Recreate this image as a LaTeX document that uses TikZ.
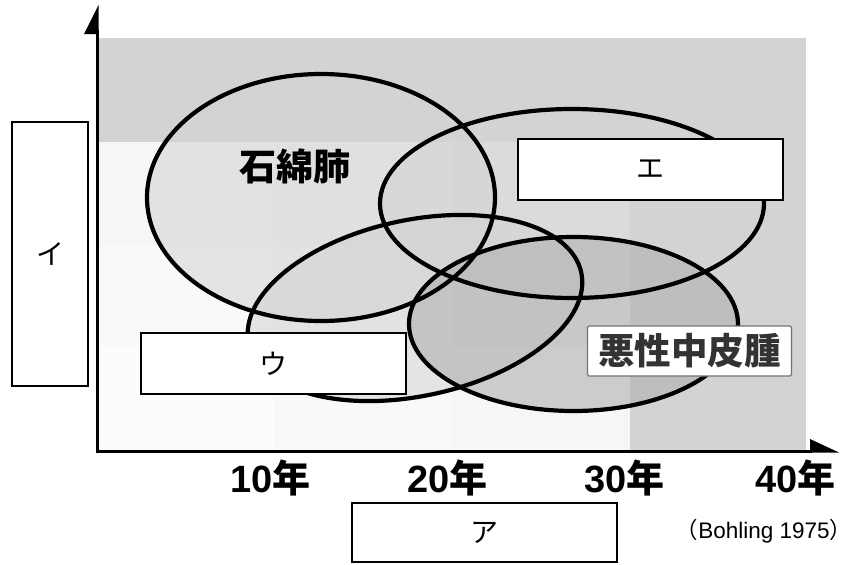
\documentclass[tikz,border=0pt]{standalone}
\usepackage{fontspec}
\newfontfamily\jp{Noto Sans CJK JP}
\newfontfamily\lib{Liberation Sans}
\definecolor{band}{HTML}{D3D3D3}
\definecolor{ca}{HTML}{F6F6F6}
\definecolor{cb}{HTML}{F1F1F1}
\definecolor{cc}{HTML}{E6E6E6}
\definecolor{cd}{HTML}{F9F9F9}
\definecolor{ce}{HTML}{F5F5F5}
\definecolor{cf}{HTML}{EDEDED}
\definecolor{cg}{HTML}{FCFCFC}
\definecolor{ch}{HTML}{F9F9F9}
\definecolor{ci}{HTML}{F6F6F6}
\definecolor{efill}{HTML}{D3D3D3}
\definecolor{mfill}{HTML}{B0B0B0}
\definecolor{mtext}{HTML}{333333}
\tikzset{
  ellfill/.style={fill=efill, fill opacity=0.55},
  mesofill/.style={fill=mfill, fill opacity=0.6},
  ellline/.style={draw=black, line width=4.2pt},
  kbox/.style={draw=black, line width=2.6pt, fill=white, inner sep=0pt, font=\jp\fontsize{28}{30}\selectfont},
  axisline/.style={line width=3pt},
  yearlbl/.style={font=\jp\bfseries\fontsize{38}{40}\selectfont, inner sep=0pt}
}
\begin{document}
\begin{tikzpicture}[x=1pt,y=-1pt]
\useasboundingbox (0,0) rectangle (855,565);
% background grid
\fill[band] (97,38) rectangle (806,142);
\fill[band] (630,142) rectangle (806,451);
\fill[ca] (97,142) rectangle (274,246);
\fill[cb] (274,142) rectangle (452,246);
\fill[cc] (452,142) rectangle (630,246);
\fill[cd] (97,246) rectangle (274,347);
\fill[ce] (274,246) rectangle (452,347);
\fill[cf] (452,246) rectangle (630,347);
\fill[cg] (97,347) rectangle (274,451);
\fill[ch] (274,347) rectangle (452,451);
\fill[ci] (452,347) rectangle (630,451);
% ellipse fills
\fill[ellfill] (321,197.5) ellipse [x radius=174, y radius=123.5];
\fill[ellfill] (572,203.5) ellipse [x radius=192, y radius=94.5];
\begin{scope}[shift={(415,308)}, rotate=12]
\fill[ellfill] (0,0) ellipse [x radius=170, y radius=88];
\end{scope}
\fill[mesofill] (573.5,324) ellipse [x radius=164.5, y radius=87];
% ellipse outlines
\draw[ellline] (321,197.5) ellipse [x radius=174, y radius=123.5];
\draw[ellline] (572,203.5) ellipse [x radius=192, y radius=94.5];
\begin{scope}[shift={(415,308)}, rotate=12]
\draw[ellline] (0,0) ellipse [x radius=170, y radius=88];
\end{scope}
\draw[ellline] (573.5,324) ellipse [x radius=164.5, y radius=87];
% axes
\coordinate (o) at (97,451);
\coordinate (ytop) at (97,30);
\coordinate (xend) at (812,451);
\draw[axisline] (o) -- (ytop);
\draw[axisline] ([xshift=-1.5pt]o) -- (xend);
\fill (98.5,5) -- (84,34) -- (98.5,34) -- cycle;
\fill (839,452.5) -- (810,439) -- (810,452.5) -- cycle;
% labels
\node[font=\jp\bfseries\fontsize{37}{39}\selectfont, inner sep=0pt] (asb) at (295,166) {石綿肺};
\node[draw=black!55, line width=1.3pt, rounded corners=1.5pt, fill=white, minimum width=204pt, minimum height=50pt, inner sep=0pt, text=mtext, font=\jp\bfseries\fontsize{36.5}{38}\selectfont] (meso) at (689.5,351) {悪性中皮腫};
\node[kbox, minimum width=265pt, minimum height=61pt] (e) at (650.5,169.5) {エ};
\node[kbox, minimum width=265pt, minimum height=61pt] (u) at (273.5,363.5) {ウ};
\node[kbox, minimum width=76pt, minimum height=264pt] (i) at (50,254) {イ};
\node[kbox, minimum width=265pt, minimum height=59pt] (a) at (484.5,532.5) {ア};
\node[yearlbl] (y10) at (270.5,478) {\lib\bfseries 10\jp 年};
\node[yearlbl] (y20) at (447.5,478) {\lib\bfseries 20\jp 年};
\node[yearlbl] (y30) at (624.5,478) {\lib\bfseries 30\jp 年};
\node[yearlbl] (y40) at (795.5,478) {\lib\bfseries 40\jp 年};
\node[inner sep=0pt, font=\lib\fontsize{22.5}{24}\selectfont] (src) at (764,531) {\jp（\lib Bohling 1975\jp）};
\end{tikzpicture}
\end{document}
